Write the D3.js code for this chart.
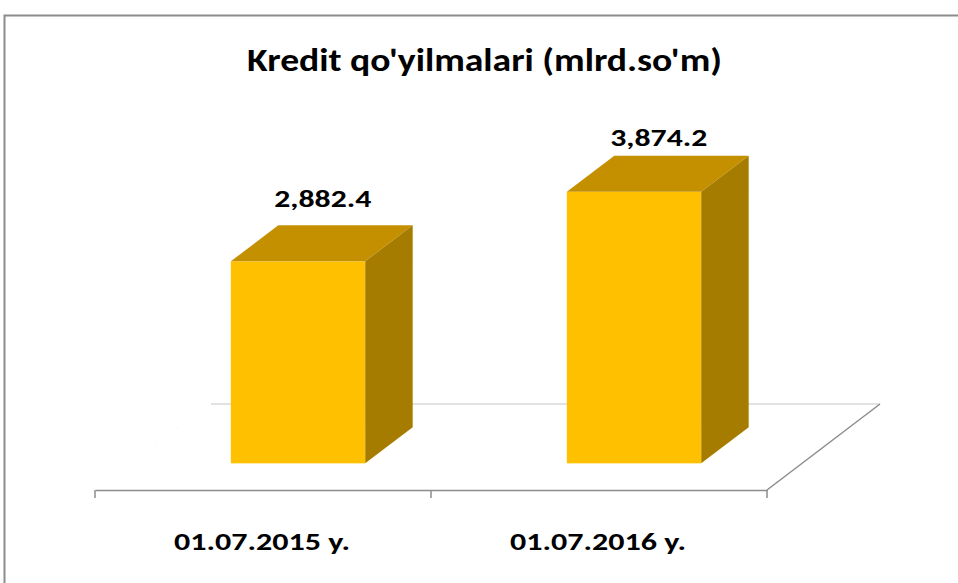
<!DOCTYPE html>
<html>
<head>
<meta charset="utf-8">
<script src="https://cdn.jsdelivr.net/npm/d3@7"></script>
<style>
  body { margin: 0; background: #fff; }
  text { font-family: Carlito, Calibri, Lato, sans-serif; font-weight: bold; fill: #000; }
</style>
</head>
<body>
<svg id="chart" width="958" height="583"></svg>
<script>
var categories = ["01.07.2015 y.", "01.07.2016 y."];
var values = [2882.4, 3874.2];
var valueLabels = ["2,882.4", "3,874.2"];
var title = "Kredit qo'yilmalari (mlrd.so'm)";

var svg = d3.select("#chart");

// outer frame (cut off at right and bottom)
svg.append("rect")
    .attr("x", 4.5).attr("y", 15.5)
    .attr("width", 970).attr("height", 600)
    .attr("fill", "#fff")
    .attr("stroke", "#8c8c8c")
    .attr("stroke-width", 2);

// floor geometry
var floorY = 490,
    depthX = 113,
    depthY = 86;

var x = d3.scaleBand()
    .domain(categories)
    .range([95, 767])
    .paddingInner(0.6)
    .paddingOuter(0.3);

// bars stand a bit behind the front edge of the floor
var barFront = 0.31, barDepth = 0.42;
var baseY = floorY - depthY * barFront;

var y = d3.scaleLinear()
    .domain([0, 4000])
    .range([baseY, baseY - 4000 * 0.07008]);

// floor: back edge, faint left edge, right edge
svg.append("line")
    .attr("x1", 95 + depthX + 3).attr("y1", floorY - depthY)
    .attr("x2", 767 + depthX).attr("y2", floorY - depthY)
    .attr("stroke", "#d9d9d9").attr("stroke-width", 1.5);
svg.append("line")
    .attr("x1", 95 + 30).attr("y1", floorY - 22)
    .attr("x2", 95 + depthX).attr("y2", floorY - depthY)
    .attr("stroke", "#f2f2f2").attr("stroke-width", 1)
    .attr("stroke-dasharray", "1,12");
svg.append("line")
    .attr("x1", 767).attr("y1", floorY)
    .attr("x2", 767 + depthX).attr("y2", floorY - depthY)
    .attr("stroke", "#8c8c8c").attr("stroke-width", 1.5);

var bx = barFront * depthX,
    sx = barDepth * depthX,
    sy = barDepth * depthY;

var bars = svg.selectAll(".bar")
    .data(values)
  .enter().append("g")
    .attr("class", "bar");

// front face
bars.append("rect")
    .attr("x", function(d, i) { return x(categories[i]) + bx; })
    .attr("y", function(d) { return y(d); })
    .attr("width", x.bandwidth())
    .attr("height", function(d) { return y(0) - y(d); })
    .attr("fill", "#ffc000");

// top face
bars.append("path")
    .attr("fill", "#c49000")
    .attr("d", function(d, i) {
      var x0 = x(categories[i]) + bx, x1 = x0 + x.bandwidth(), t = y(d);
      return "M" + [x0, t] + "L" + [x0 + sx, t - sy] + "L" + [x1 + sx, t - sy] + "L" + [x1, t] + "Z";
    });

// side face
bars.append("path")
    .attr("fill", "#a67c00")
    .attr("d", function(d, i) {
      var x1 = x(categories[i]) + bx + x.bandwidth(), t = y(d), b = y(0);
      return "M" + [x1, t] + "L" + [x1 + sx, t - sy] + "L" + [x1 + sx, b - sy] + "L" + [x1, b] + "Z";
    });

// value labels (placed with a little perspective, like the original)
bars.append("text")
    .attr("x", function(d, i) { return x(categories[i]) + bx + (x.bandwidth() + sx) / 2 + 1; })
    .attr("y", function(d) { return 0.873 * y(d) - 21; })
    .attr("text-anchor", "middle")
    .attr("textLength", 97)
    .attr("lengthAdjust", "spacingAndGlyphs")
    .style("font-size", "24px")
    .text(function(d, i) { return valueLabels[i]; });

// front axis with ticks
var axis = svg.append("g")
    .attr("transform", "translate(0," + floorY + ")")
    .call(d3.axisBottom(x).tickSize(0).tickFormat(""));
axis.select(".domain").attr("stroke", "#8c8c8c").attr("stroke-width", 1.5);

svg.selectAll(".tick-mark")
    .data([95, 95 + (767 - 95) / 2, 767])
  .enter().append("line")
    .attr("x1", function(d) { return d; }).attr("x2", function(d) { return d; })
    .attr("y1", floorY).attr("y2", floorY + 8)
    .attr("stroke", "#8c8c8c").attr("stroke-width", 1.5);

// category labels
svg.selectAll(".cat")
    .data(categories)
  .enter().append("text")
    .attr("x", function(d) { return x(d) + x.bandwidth() / 2 - 1; })
    .attr("y", 550)
    .attr("text-anchor", "middle")
    .attr("textLength", 176)
    .attr("lengthAdjust", "spacingAndGlyphs")
    .style("font-size", "25px")
    .text(function(d) { return d; });

// title
svg.append("text")
    .attr("x", 484.5)
    .attr("y", 71)
    .attr("text-anchor", "middle")
    .attr("textLength", 475)
    .attr("lengthAdjust", "spacingAndGlyphs")
    .style("font-size", "32px")
    .text(title);
</script>
</body>
</html>
